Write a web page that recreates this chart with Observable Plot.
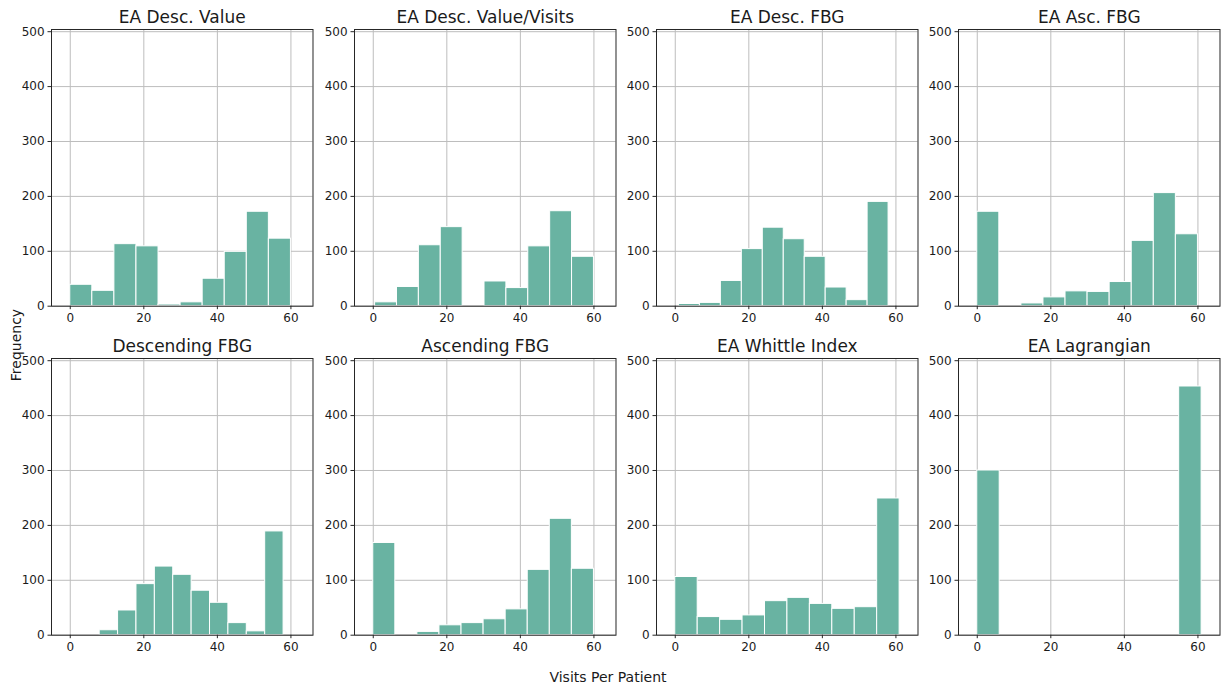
<!DOCTYPE html>
<html>
<head>
<meta charset="utf-8">
<script src="https://cdn.jsdelivr.net/npm/d3@7"></script>
<script src="https://cdn.jsdelivr.net/npm/@observablehq/plot@0.6"></script>
<style>
  html, body { margin: 0; padding: 0; background: #fff; }
  #fig { position: relative; width: 1221px; height: 688px; overflow: hidden; font-family: "DejaVu Sans", sans-serif; color: #1a1a1a; }
  #fig > .panel { position: absolute; }
  .lbl { position: absolute; font-size: 14px; white-space: nowrap; color: #1a1a1a; }
</style>
</head>
<body>
<div id="fig"></div>
<script>
// ---- data ----
const titles = [
  "EA Desc. Value", "EA Desc. Value/Visits", "EA Desc. FBG", "EA Asc. FBG",
  "Descending FBG", "Ascending FBG", "EA Whittle Index", "EA Lagrangian"
];
// histogram range (min, max of data) per panel; 10 equal bins each
const binStart = [0, 0.5, 1, 0, 8, 0, 0, 0];
const binEnd   = [60, 60, 58, 60, 58, 60, 61, 61];
// counts per bin
const counts = [
  [39, 28, 113, 109, 3, 7, 50, 99, 172, 123],
  [7, 35, 111, 144, 0, 45, 33, 109, 173, 90],
  [4, 6, 46, 104, 143, 122, 90, 34, 11, 190],
  [172, 0, 5, 16, 27, 26, 44, 119, 206, 131],
  [9, 45, 93, 125, 110, 81, 59, 22, 7, 189],
  [168, 0, 6, 18, 22, 29, 47, 119, 212, 121],
  [106, 33, 28, 36, 62, 68, 57, 48, 51, 249],
  [300, 0, 0, 0, 0, 0, 0, 0, 0, 453]
];
const xTicks = [0, 20, 40, 60];
const yTicks = [0, 100, 200, 300, 400, 500];
const xLabel = "Visits Per Patient";
const yLabel = "Frequency";

// ---- layout ----
const colLeft = [50.5, 354, 656, 958];
const rowTop = [29.3, 357.7];
const FW = 261.5, FH = 276.7;
const ML = 50, MR = 10, MT = 30, MB = 30;

const fig = document.getElementById("fig");

titles.forEach((title, i) => {
  const n = counts[i].length;
  const step = (binEnd[i] - binStart[i]) / n;
  const bins = counts[i].map((c, k) => ({
    x1: binStart[i] + k * step,
    x2: binStart[i] + (k + 1) * step,
    y: c
  })).filter(d => d.y > 0);

  const chart = Plot.plot({
    width: FW + ML + MR,
    height: FH + MT + MB,
    marginLeft: ML, marginRight: MR, marginTop: MT, marginBottom: MB,
    style: { fontFamily: "DejaVu Sans", fontSize: "12px", color: "#1a1a1a", background: "transparent", overflow: "visible" },
    x: { domain: [-5.1, 66], label: null },
    y: { domain: [0, 504], label: null },
    marks: [
      Plot.gridX(xTicks, { stroke: "#bdbdbd", strokeOpacity: 1, strokeWidth: 1 }),
      Plot.gridY(yTicks, { stroke: "#bdbdbd", strokeOpacity: 1, strokeWidth: 1 }),
      Plot.rectY(bins, { x1: "x1", x2: "x2", y: "y", fill: "#69b3a2", stroke: "white", strokeWidth: 1 }),
      Plot.frame({ stroke: "#262626", strokeWidth: 1 }),
      Plot.axisX({ ticks: xTicks, tickSize: 3.5, tickPadding: 3.5, label: null, stroke: "#262626", fontSize: 12 }),
      Plot.axisY({ ticks: yTicks, tickSize: 3.5, tickPadding: 3.5, label: null, stroke: "#262626", fontSize: 12 }),
      Plot.text([title], { text: d => d, frameAnchor: "top", dy: -6, lineAnchor: "bottom", fontSize: 17, fill: "#1a1a1a" })
    ]
  });
  chart.classList.add("panel");
  const r = Math.floor(i / 4), c = i % 4;
  chart.style.left = (colLeft[c] - ML) + "px";
  chart.style.top = (rowTop[r] - MT) + "px";
  fig.appendChild(chart);
});

const xl = document.createElement("div");
xl.className = "lbl";
xl.textContent = xLabel;
xl.style.left = "608px";
xl.style.top = "669px";
xl.style.transform = "translateX(-50%)";
fig.appendChild(xl);

const yl = document.createElement("div");
yl.className = "lbl";
yl.textContent = yLabel;
yl.style.left = "16px";
yl.style.top = "345px";
yl.style.transform = "translate(-50%, -50%) rotate(-90deg)";
fig.appendChild(yl);
</script>
</body>
</html>
